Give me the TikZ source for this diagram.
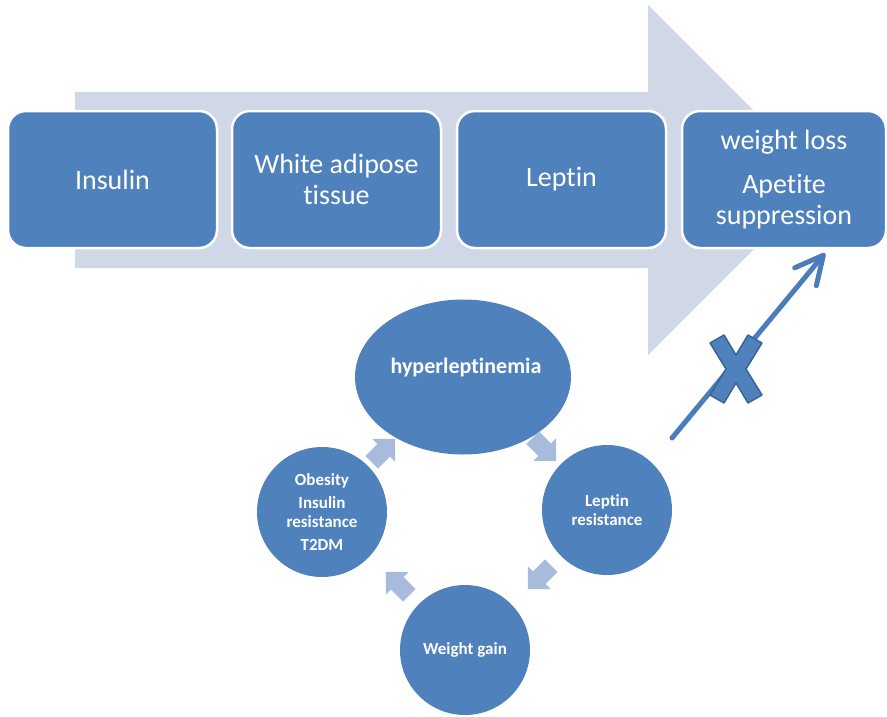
\documentclass[tikz,border=0pt]{standalone}
\usepackage{fontspec}
\setmainfont{Carlito}[Ligatures=NoCommon]
\usetikzlibrary{shapes.geometric,arrows.meta,calc}
\definecolor{boxblue}{HTML}{4F81BD}
\definecolor{bandblue}{HTML}{D0D8E8}
\definecolor{cyclefill}{HTML}{A9BBDA}
\definecolor{linkblue}{HTML}{4A7EBB}
\definecolor{crossedge}{HTML}{3A6496}

\tikzset{
  stagebox/.style={rectangle, rounded corners=18pt, fill=boxblue, draw=white,
    line width=2.5pt, minimum width=209pt, minimum height=137pt, inner sep=0pt,
    text=white, align=center, font=\fontsize{28}{31}\selectfont},
  bubble/.style={circle, fill=boxblue, minimum size=130pt, inner sep=0pt,
    text=white, align=center, font=\bfseries\fontsize{17}{18.5}\selectfont},
  link/.style={draw=linkblue, line width=5pt, line cap=round,
    -{Straight Barb[length=28pt,width=28pt,line width=5pt,round]}},
  pics/cyclearrow/.style={code={
    \fill[cyclefill] (-16,-9) -- (1,-9) -- (1,-16) -- (17,0) -- (1,16) -- (1,9) -- (-16,9) -- cycle;}}
}

\begin{document}
\begin{tikzpicture}[x=1pt,y=-1pt]
\useasboundingbox (0,0) rectangle (887,716);

% broad process arrow behind the stages
\fill[bandblue] (75,92) -- (648,92) -- (648,5) -- (823,180) -- (648,355)
  -- (648,268) -- (75,268) -- cycle;

% stages
\node[stagebox] (insulin) at (112.5,179.5) {Insulin};
\node[stagebox] (wat) at (336.5,179.5) {White adipose\\tissue};
\node[stagebox] (leptin) at (561.5,179.5) {Leptin};
\node[stagebox, minimum width=204pt] (outcome) at (784,179.5)
  {weight loss\\[13pt]Apetite\\suppression};

% vicious cycle
\node[ellipse, fill=boxblue, minimum width=216pt, minimum height=155pt, inner sep=0pt]
  (hyper) at (463,377) {};
\node[text=white, font=\bfseries\fontsize{22}{24}\selectfont] (hypertext) at (466,368) {hyperleptinemia};
\node[bubble] (lepres) at (607,510) {Leptin\\resistance};
\node[bubble] (gain) at (465,650) {Weight gain};
\node[bubble] (obesity) at (322,512) {Obesity\\[5pt]Insulin\\resistance\\[5pt]T2DM};

\pic[rotate=-45] at (544,449) {cyclearrow};
\pic[rotate=-135] at (540,577) {cyclearrow};
\pic[rotate=135] at (398,584) {cyclearrow};
\pic[rotate=45] at (383,451) {cyclearrow};

% blocked signal towards the outcome
\coordinate (blockstart) at (672,438);
\coordinate (blockend) at ($(outcome.south)+(41,4)$);
\draw[link] (blockstart) -- (blockend);

\begin{scope}[shift={(736,369)}]
\filldraw[fill=boxblue, draw=crossedge, line width=1.5pt, line join=round]
  (-26,-26) -- (-12,-34) -- (0,-14) -- (12,-34) -- (26,-26) -- (10,0)
  -- (26,26) -- (12,34) -- (0,14) -- (-12,34) -- (-26,26) -- (-10,0) -- cycle;
\end{scope}
\end{tikzpicture}
\end{document}
